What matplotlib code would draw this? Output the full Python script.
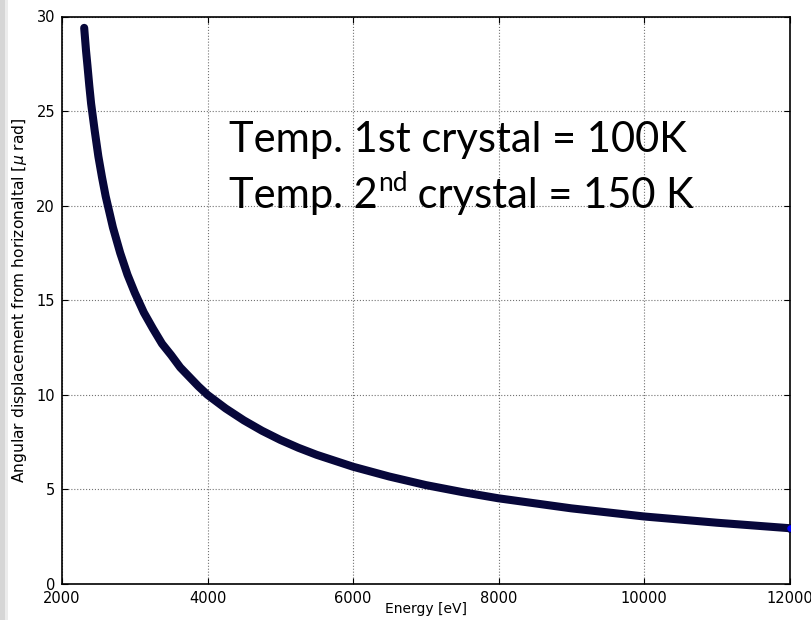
import matplotlib
matplotlib.use('Agg')
import matplotlib.pyplot as plt
from matplotlib.patches import Rectangle

DPI = 100

# Values.
energy = [2305, 2330, 2350, 2375, 2400, 2450, 2500, 2550, 2600, 2700, 2800, 2900,
          3000, 3125, 3250, 3375, 3500, 3625, 3750, 3875, 4000, 4250, 4500, 4750,
          5000, 5250, 5500, 6000, 6500, 7000, 7500, 8000, 9000, 10000, 11000, 12000]
displacement = [29.4, 28.2, 27.4, 26.35, 25.4, 23.95, 22.6, 21.5, 20.5, 18.85, 17.5, 16.35,
                15.4, 14.35, 13.5, 12.7, 12.1, 11.45, 10.95, 10.45, 10.0, 9.28, 8.65, 8.1,
                7.62, 7.2, 6.83, 6.2, 5.68, 5.23, 4.86, 4.53, 4.0, 3.57, 3.24, 2.95]

x_ticks = [2000, 4000, 6000, 8000, 10000, 12000]
y_ticks = [0, 5, 10, 15, 20, 25, 30]

fig = plt.figure(figsize=(811 / DPI, 620 / DPI), dpi=DPI)
fig.patch.set_facecolor('white')

# grey slide shadow on the left edge
fig.patches.append(Rectangle((0, 0), 8 / 811, 1, transform=fig.transFigure,
                             facecolor='#ececec', edgecolor='none', zorder=0))
fig.patches.append(Rectangle((0, 0), 5 / 811, 1, transform=fig.transFigure,
                             facecolor='#d6d6d6', edgecolor='none', zorder=0))

ax = fig.add_axes([62 / 811, 1 - 584 / 620, 727.5 / 811, 567.5 / 620])

ax.plot(energy, displacement, color='#07073a', lw=5.8, solid_capstyle='round',
        solid_joinstyle='round', zorder=3)
ax.plot(energy[-1:], displacement[-1:], 'o', ms=5.5, mfc='#0000ff', mec='#07073a', mew=0.8, zorder=4)

ax.set_xlim(2000, 12000)
ax.set_ylim(0, 30)
ax.set_xticks(x_ticks)
ax.set_yticks(y_ticks)
ax.tick_params(direction='in', length=4, top=True, right=True, labelsize=10.5, pad=5)
ax.grid(True, color='0.45', linestyle=':', linewidth=0.8)
for sp in ax.spines.values():
    sp.set_linewidth(1.2)

ax.set_xlabel('Energy [eV]', fontsize=10)
ax.xaxis.set_label_coords(0.5, -(602 - 584) / 567.5)
ax.set_ylabel(r'Angular displacement from horizonaltal [$\mu$ rad]', fontsize=11.2, labelpad=5)

# annotation text, superscript drawn as a separate piece
font = dict(family='Lato', fontsize=30, color='black')
x0 = 229 / 811
fig.text(x0, 1 - 152 / 620, 'Temp. 1st crystal = 100K', **font)
t = fig.text(x0, 1 - 208 / 620, 'Temp. 2', **font)
renderer = fig.canvas.get_renderer()
bb = t.get_window_extent(renderer)
s = fig.text(bb.x1 / 811, 1 - 191 / 620, 'nd', family='Lato', fontsize=19, color='black')
bb2 = s.get_window_extent(renderer)
fig.text(bb2.x1 / 811, 1 - 208 / 620, ' crystal = 150 K', **font)

fig.savefig('out.png', dpi=DPI)
